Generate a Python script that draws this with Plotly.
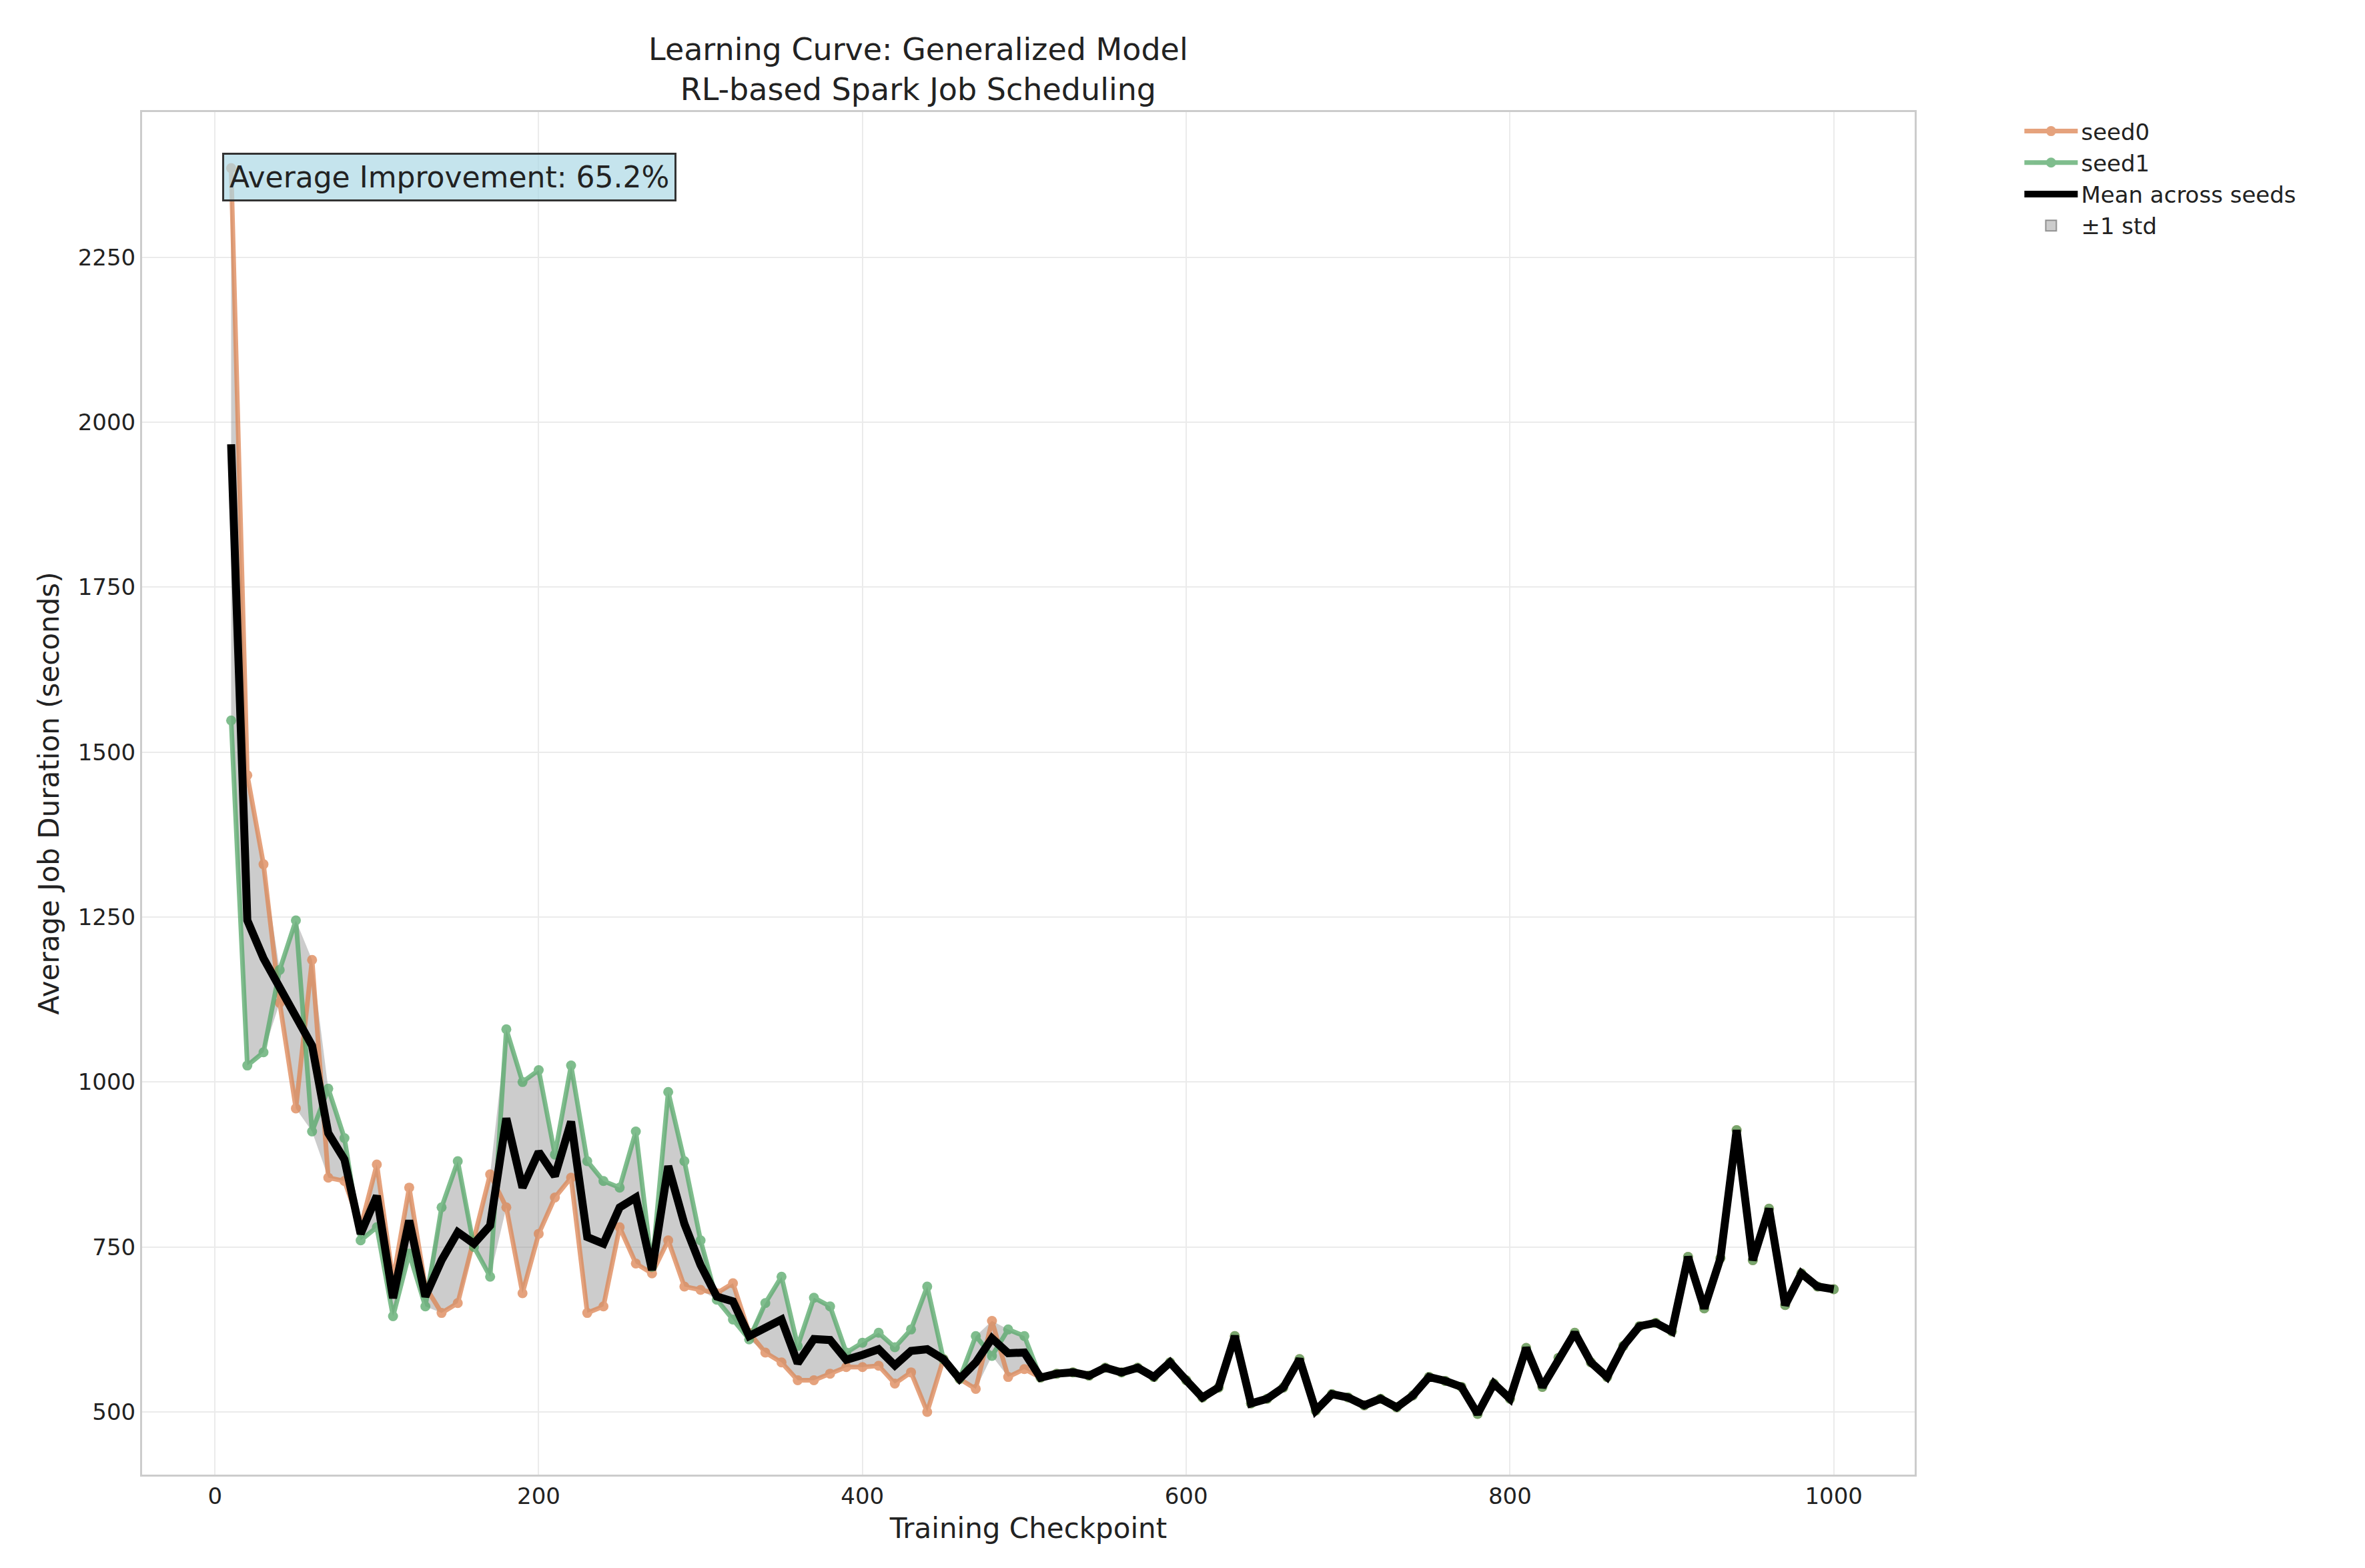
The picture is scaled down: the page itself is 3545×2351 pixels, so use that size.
import numpy as np
import plotly.graph_objects as go

checkpoints = list(range(10, 1001, 10))

seed0_early = [2385, 1465, 1330, 1120, 960, 1185, 855, 850, 780, 875,
               700, 840, 690, 650, 665, 760, 860, 810, 680, 770,
               825, 855, 650, 660, 780, 725, 710, 760, 690, 685,
               680, 695, 620, 590, 575, 548, 548, 558, 568, 568,
               570, 543, 560, 500, 580, 550, 535, 638, 553, 565]
seed1_early = [1548, 1025, 1045, 1170, 1245, 925, 990, 915, 760, 780,
               645, 740, 660, 810, 880, 750, 705, 1080, 1000, 1018,
               890, 1025, 880, 850, 840, 925, 720, 985, 880, 760,
               670, 640, 610, 665, 705, 600, 673, 660, 590, 605,
               620, 598, 625, 690, 580, 550, 615, 585, 625, 615]
# after checkpoint 500 both seeds report the same values
late = [552, 558, 560, 555, 567, 560, 567, 553, 575, 548,
        522, 537, 615, 513, 520, 537, 580, 502, 527, 522,
        510, 520, 507, 525, 553, 547, 538, 497, 543, 520,
        597, 538, 582, 620, 575, 553, 600, 630, 635, 622,
        735, 657, 733, 927, 730, 808, 662, 710, 690, 686]

seed0 = np.array(seed0_early + late, dtype=float)
seed1 = np.array(seed1_early + late, dtype=float)
stack = np.vstack([seed0, seed1])
mean = stack.mean(axis=0)
std = stack.std(axis=0)
improvement = 65.2

FONT = "DejaVu Sans"
fig = go.Figure()
fig.add_trace(go.Scatter(x=checkpoints, y=mean + std, mode="lines",
                         line=dict(width=0), showlegend=False, hoverinfo="skip"))
fig.add_trace(go.Scatter(x=checkpoints, y=mean - std, mode="lines", fill="tonexty",
                         fillcolor="rgba(128,128,128,0.4)", line=dict(width=0),
                         name="±1 std", showlegend=False))
fig.add_trace(go.Scatter(x=checkpoints, y=seed0, mode="lines+markers", name="seed0",
                         line=dict(color="#DD8452", width=7), marker=dict(size=15),
                         opacity=0.75))
fig.add_trace(go.Scatter(x=checkpoints, y=seed1, mode="lines+markers", name="seed1",
                         line=dict(color="#55A868", width=7), marker=dict(size=15),
                         opacity=0.75))
fig.add_trace(go.Scatter(x=checkpoints, y=mean, mode="lines", name="Mean across seeds",
                         line=dict(color="black", width=12)))
# legend entry for the band
fig.add_trace(go.Scatter(x=[None], y=[None], mode="markers", name="±1 std",
                         marker=dict(symbol="square", size=30, color="rgba(128,128,128,0.4)",
                                     line=dict(color="rgba(90,90,90,0.6)", width=2))))

fig.add_annotation(xref="paper", yref="paper", x=0.045, y=0.97, xanchor="left", yanchor="top",
                   text=f"Average Improvement: {improvement}%", showarrow=False,
                   font=dict(family=FONT, size=44, color="#222"),
                   bgcolor="rgba(173,216,230,0.7)", bordercolor="#333", borderwidth=3,
                   borderpad=8)

axis_common = dict(showgrid=True, gridcolor="#EBEBEB", gridwidth=2, zeroline=False,
                   showline=True, linecolor="#CCCCCC", linewidth=3, mirror=True,
                   ticks="", tickfont=dict(family=FONT, size=34, color="#222"))
fig.update_xaxes(range=[-45, 1050], tickvals=[0, 200, 400, 600, 800, 1000],
                 title=dict(text="Training Checkpoint", font=dict(family=FONT, size=42, color="#222")),
                 **axis_common)
fig.update_yaxes(range=[405, 2470], tickvals=[500, 750, 1000, 1250, 1500, 1750, 2000, 2250],
                 title=dict(text="Average Job Duration (seconds)", font=dict(family=FONT, size=42, color="#222")),
                 **axis_common)
fig.update_layout(
    width=3545, height=2351,
    paper_bgcolor="white", plot_bgcolor="white",
    margin=dict(l=205, r=683, t=160, b=148),
    title=dict(text="Learning Curve: Generalized Model<br>RL-based Spark Job Scheduling",
               x=0.386, xanchor="center", y=0.965, yanchor="top",
               font=dict(family=FONT, size=46, color="#222")),
    legend=dict(x=1.06, y=1.0, xanchor="left", yanchor="top", traceorder="normal",
                font=dict(family=FONT, size=34, color="#222"), bgcolor="rgba(0,0,0,0)",
                itemwidth=80),
)
fig.write_html("out.html")
